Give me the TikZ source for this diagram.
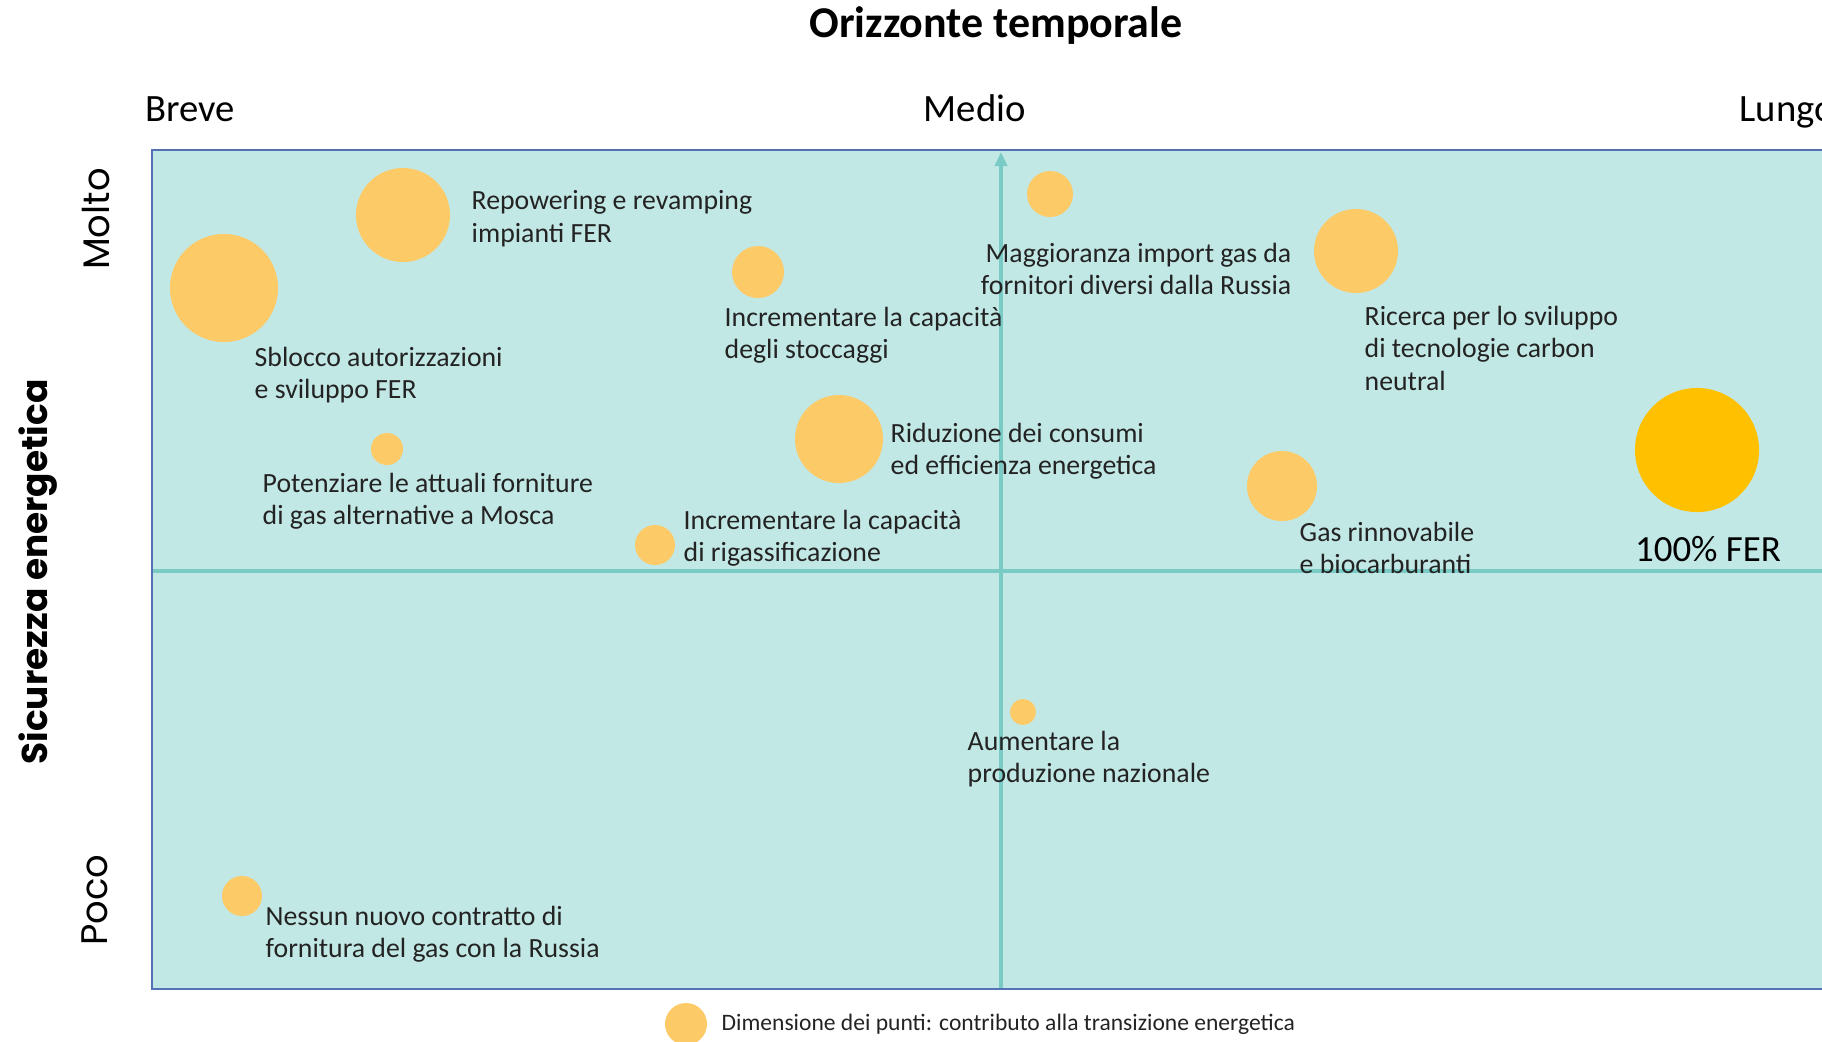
\documentclass[tikz,border=0pt]{standalone}
\usepackage{fontspec}
\setmainfont{Carlito}
\newfontfamily\geofont{Poppins}
\usepackage{xcolor}
\usetikzlibrary{positioning, calc, arrows.meta}

\definecolor{fondo}{RGB}{194,232,229}
\definecolor{bordo}{RGB}{84,114,180}
\definecolor{asse}{RGB}{122,203,198}
\definecolor{punto}{RGB}{252,203,104}
\definecolor{pieno}{RGB}{255,192,0}
\definecolor{testo}{RGB}{35,35,35}

\begin{document}
\begin{tikzpicture}[x=0.01cm, y=-0.01cm,
    bub/.style={circle, fill=punto, inner sep=0pt, minimum size=#1},
    lab/.style={anchor=north west, align=left, inner sep=0pt, text=testo, font=\fontsize{7.9}{9.3}\selectfont},
    tempo/.style={anchor=base west, inner sep=0pt, font=\fontsize{11}{13}\selectfont},
    grado/.style={rotate=90, inner sep=0pt, font=\geofont\fontsize{10.5}{12}\selectfont}]
    \useasboundingbox (0,0) rectangle (1822,1041);
    \fill[fondo] (152,150) rectangle (1850,989);
    \coordinate (w) at (152,571);
    \coordinate (e) at (1850,571);
    \coordinate (s) at (1001,989);
    \coordinate (n) at (1001,152);
    \draw[asse, line width=0.9pt] (w) -- (e);
    \draw[asse, line width=0.9pt, -{Triangle[length=4pt, width=3.5pt]}] (s) -- (n);
    \draw[bordo, line width=0.6pt] (152,150) rectangle (1850,989);

    \node[font=\bfseries\fontsize{12.5}{15}\selectfont] (tit) at (996,26) {Orizzonte temporale};
    \node[tempo] (brv) at (145,121) {Breve};
    \node[tempo] (med) at (923,121) {Medio};
    \node[tempo] (lng) at (1739,121) {Lungo};
    \node[grado] (mol) at (96,219) {Molto};
    \node[grado] (poc) at (95,900) {Poco};
    \node[grado, font=\geofont\bfseries\fontsize{10.2}{12}\selectfont] (sic) at (38,572) {Sicurezza energetica};

    \node[bub=0.94cm] (rep) at (403,215) {};
    \node[lab] (reptx) at (471,190) {Repowering e revamping\\impianti FER};
    \node[bub=1.08cm] (sbl) at (224,288) {};
    \node[lab] (sbltx) at (254,346) {Sblocco autorizzazioni\\e sviluppo FER};
    \node[bub=0.52cm] (sto) at (758,272) {};
    \node[lab] (stotx) at (724,306) {Incrementare la capacità\\degli stoccaggi};
    \node[bub=0.46cm] (mag) at (1050,194) {};
    \node[lab, anchor=north east, align=right] (magtx) at (1292,242) {Maggioranza import gas da\\fornitori diversi dalla Russia};
    \node[bub=0.84cm] (ric) at (1356,251) {};
    \node[lab] (rictx) at (1364,305) {Ricerca per lo sviluppo\\di tecnologie carbon\\neutral};
    \node[bub=0.88cm] (rid) at (839,439) {};
    \node[lab] (ridtx) at (890,422) {Riduzione dei consumi\\ed efficienza energetica};
    \node[bub=0.32cm] (pot) at (387,449) {};
    \node[lab] (pottx) at (262,472) {Potenziare le attuali forniture\\di gas alternative a Mosca};
    \node[bub=0.40cm] (rig) at (655,545) {};
    \node[lab] (rigtx) at (683,509) {Incrementare la capacità\\di rigassificazione};
    \node[bub=0.70cm] (gas) at (1282,486) {};
    \node[lab] (gastx) at (1299,521) {Gas rinnovabile\\e biocarburanti};
    \node[bub=1.24cm, fill=pieno] (fer) at (1697,450) {};
    \node[anchor=base, inner sep=0pt, font=\fontsize{10.5}{12}\selectfont] (fertx) at (1708,561) {100\% FER};
    \node[bub=0.26cm] (aum) at (1023,712) {};
    \node[lab] (aumtx) at (967,730) {Aumentare la\\produzione nazionale};
    \node[bub=0.40cm] (nes) at (242,896) {};
    \node[lab] (nestx) at (265,905) {Nessun nuovo contratto di\\fornitura del gas con la Russia};
    \node[bub=0.42cm] (leg) at (686,1024) {};
    \node[anchor=base west, inner sep=0pt, text=testo, font=\fontsize{6.7}{8}\selectfont] (legtx) at (721,1030) {Dimensione dei punti: contributo alla transizione energetica};
\end{tikzpicture}
\end{document}
